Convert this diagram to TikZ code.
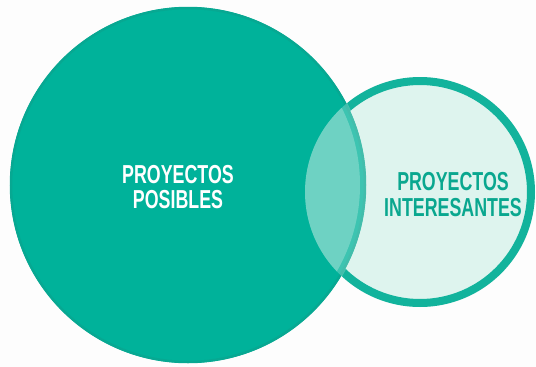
\documentclass[tikz,border=0pt]{standalone}
\usepackage{fontspec}
\newfontfamily\condfont[FakeStretch=0.685]{Liberation Sans}
\definecolor{bg}{HTML}{FDFDFD}
\definecolor{tealfill}{HTML}{00B29A}
\definecolor{tealedge}{HTML}{07A892}
\definecolor{ringcol}{HTML}{12B39C}
\definecolor{mint}{HTML}{DEF4EE}
\definecolor{tealtext}{HTML}{0AA78F}
\begin{document}
\begin{tikzpicture}[x=1pt,y=-1pt,
  lbl/.style={font=\condfont\bfseries\fontsize{26}{25.5}\selectfont, align=center, inner sep=0pt}]
\fill[bg] (0,0) rectangle (536,367);
\useasboundingbox (0,0) rectangle (536,367);
% small circle (interesting projects)
\coordinate (sc) at (420,192);
\coordinate (bc) at (188,185);
\fill[mint] (sc) circle (111);
\draw[ringcol, line width=8pt] (sc) circle (111);
% big circle (possible projects)
\fill[tealfill] (bc) circle (178);
\draw[tealedge, line width=2.5pt] (bc) circle (177);
% overlap
\begin{scope}
  \clip (bc) circle (179);
  \fill[mint, fill opacity=0.28] (sc) circle (115);
\end{scope}
\begin{scope}
  \clip (bc) circle (172);
  \fill[mint, fill opacity=0.31] (sc) circle (115);
\end{scope}
\node[lbl, text=white] (posibles) at (178,187) {PROYECTOS\\POSIBLES};
\node[lbl, text=tealtext] (interesantes) at (453,194.5) {PROYECTOS\\INTERESANTES};
\end{tikzpicture}
\end{document}
